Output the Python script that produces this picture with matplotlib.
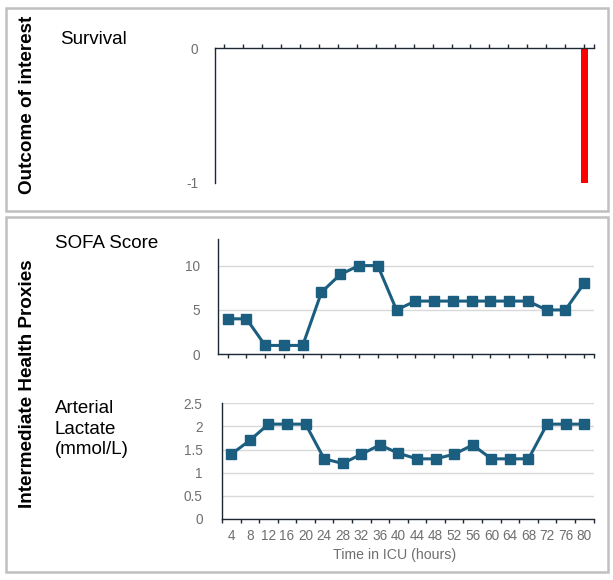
import matplotlib
matplotlib.use("Agg")
import matplotlib.pyplot as plt
from matplotlib.patches import Rectangle

plt.rcParams['font.family'] = ['Liberation Sans', 'DejaVu Sans']

hours = [4, 8, 12, 16, 20, 24, 28, 32, 36, 40, 44, 48, 52, 56, 60, 64, 68, 72, 76, 80]
survival = [0, 0, 0, 0, 0, 0, 0, 0, 0, 0, 0, 0, 0, 0, 0, 0, 0, 0, 0, -1]
sofa = [4, 4, 1, 1, 1, 7, 9, 10, 10, 5, 6, 6, 6, 6, 6, 6, 6, 5, 5, 8]
lactate = [1.4, 1.7, 2.05, 2.05, 2.05, 1.3, 1.2, 1.4, 1.6, 1.42, 1.3, 1.3,
           1.4, 1.6, 1.3, 1.3, 1.3, 2.05, 2.05, 2.05]

W, H = 613, 580
fig = plt.figure(figsize=(W / 100, H / 100), dpi=100)

def fx(px):
    return px / W

def fy(py):
    return 1 - py / H

def axes_px(x0, x1, y0, y1):
    return fig.add_axes([fx(x0), fy(y1), fx(x1) - fx(x0), (y1 - y0) / H])

line_col = '#1b5e80'
spine_col = '#1c2833'
tick_col = '#6f6f6f'
grid_col = '#d9d9d9'
tfs = 9.8
n = len(hours)
xs = list(range(n))

# Panel boxes
for (x0, y0, x1, y1) in [(6, 8, 608, 211), (6, 217, 608, 572)]:
    fig.patches.append(Rectangle((fx(x0), fy(y1)), fx(x1) - fx(x0), (y1 - y0) / H,
                                 transform=fig.transFigure, fill=False,
                                 edgecolor='#c0c0c0', linewidth=1.8))

# Side labels
fig.text(fx(28), fy(105), 'Outcome of interest', rotation=90, ha='center', va='center',
         fontsize=13.6, fontweight='bold', color='black')
fig.text(fx(28), fy(384), 'Intermediate Health Proxies', rotation=90, ha='center', va='center',
         fontsize=13.6, fontweight='bold', color='black')
fig.text(fx(60), fy(40), 'Survival', ha='left', va='center', fontsize=13.5)
fig.text(fx(55), fy(243), 'SOFA Score', ha='left', va='center', fontsize=13.5)
fig.text(fx(55), fy(429), 'Arterial\nLactate\n(mmol/L)', ha='left', va='center',
         fontsize=13.5, linespacing=1.25)

# Survival axes
ax1 = axes_px(215, 593.5, 48, 183)
ax1.bar(xs, survival, width=0.37, color='#ff0000')
ax1.set_xlim(-0.5, n - 0.5)
ax1.set_ylim(-1, 0)
ax1.xaxis.tick_top()
ax1.set_xticks(xs + [n - 0.5])
ax1.set_xticklabels([])
ax1.set_yticks([0, -1])
ax1.set_yticklabels(['0', '-1'])
ax1.tick_params(axis='x', direction='out', length=3, width=1, color=spine_col)
ax1.tick_params(axis='y', length=0, pad=12, labelsize=tfs, labelcolor=tick_col)
for s in ['bottom', 'right']:
    ax1.spines[s].set_visible(False)
for s in ['left', 'top']:
    ax1.spines[s].set_color(spine_col)
    ax1.spines[s].set_linewidth(1)

# SOFA axes
ax2 = axes_px(218.3, 593.5, 239, 354.3)
ax2.plot(xs, sofa, color=line_col, linewidth=2.2, marker='s', markersize=7,
         markerfacecolor=line_col, markeredgecolor=line_col, zorder=3)
ax2.set_xlim(-0.5, n - 0.5)
ax2.set_ylim(0, 13)
ax2.set_yticks([0, 5, 10])
ax2.set_xticks(xs + [n - 0.5])
ax2.set_xticklabels([])
ax2.yaxis.grid(True, color=grid_col, linewidth=1)
ax2.set_axisbelow(True)
ax2.tick_params(axis='x', direction='out', length=3, width=1, color=spine_col)
ax2.tick_params(axis='y', length=0, pad=13, labelsize=tfs, labelcolor=tick_col)
for s in ['top', 'right']:
    ax2.spines[s].set_visible(False)
for s in ['left', 'bottom']:
    ax2.spines[s].set_color(spine_col)
    ax2.spines[s].set_linewidth(1)

# Lactate axes
ax3 = axes_px(222, 593.5, 403.3, 519)
ax3.plot(xs, lactate, color=line_col, linewidth=2.2, marker='s', markersize=7,
         markerfacecolor=line_col, markeredgecolor=line_col, zorder=3)
ax3.set_xlim(-0.5, n - 0.5)
ax3.set_ylim(0, 2.5)
ax3.set_yticks([0, 0.5, 1, 1.5, 2, 2.5])
ax3.set_yticklabels(['0', '0.5', '1', '1.5', '2', '2.5'])
ax3.set_xticks([i - 0.5 for i in range(n + 1)])
ax3.set_xticklabels([])
ax3.set_xticks(xs, minor=True)
ax3.set_xticklabels([str(h) for h in hours], minor=True)
ax3.yaxis.grid(True, color=grid_col, linewidth=1)
ax3.set_axisbelow(True)
ax3.tick_params(axis='x', which='major', direction='out', length=3, width=1, color=spine_col)
ax3.tick_params(axis='x', which='minor', length=0, pad=7.5, labelsize=tfs, labelcolor=tick_col)
ax3.tick_params(axis='y', length=0, pad=14, labelsize=tfs, labelcolor=tick_col)
for s in ['top', 'right']:
    ax3.spines[s].set_visible(False)
for s in ['left', 'bottom']:
    ax3.spines[s].set_color(spine_col)
    ax3.spines[s].set_linewidth(1)

fig.text(fx(395), fy(555), 'Time in ICU (hours)', ha='center', va='center',
         fontsize=10.2, color=tick_col)

fig.savefig('out.png', dpi=100)
